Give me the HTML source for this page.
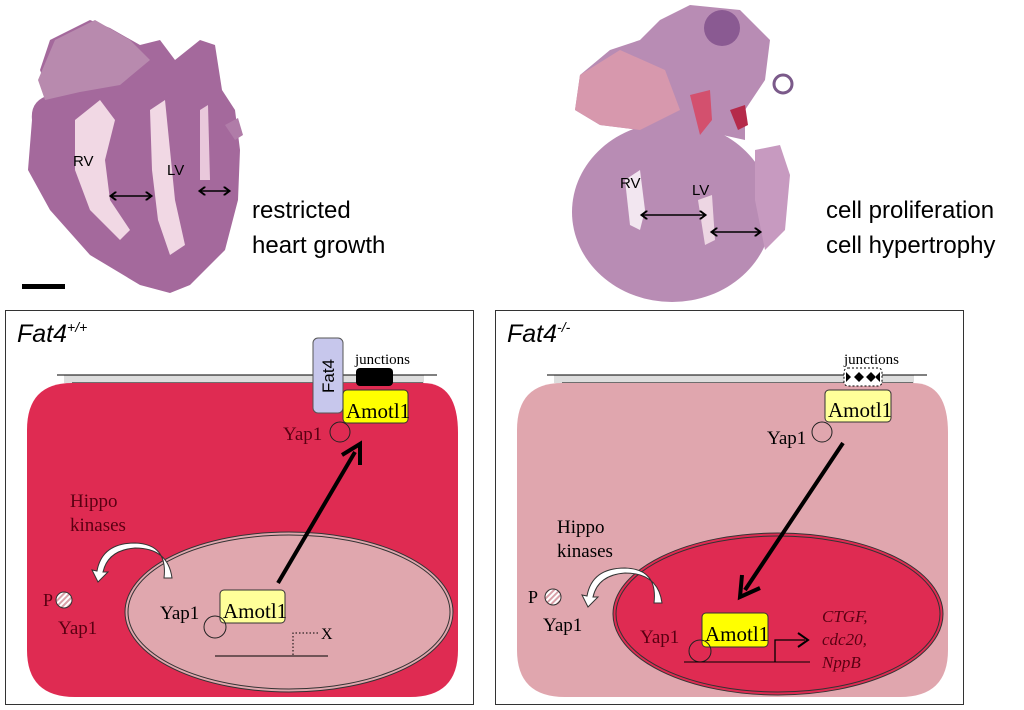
<!DOCTYPE html>
<html><head><meta charset="utf-8"><style>
html,body{margin:0;padding:0;background:#fff;width:1024px;height:710px;overflow:hidden}
svg{display:block}
.s{font-family:"Liberation Serif",serif}
.a{font-family:"Liberation Sans",sans-serif}
</style></head><body>
<svg width="1024" height="710" viewBox="0 0 1024 710" xmlns="http://www.w3.org/2000/svg">
<defs>
<pattern id="hat" width="4" height="4" patternUnits="userSpaceOnUse" patternTransform="rotate(45)">
<rect width="4" height="4" fill="#fff"/><rect width="2" height="4" fill="#d9a0a8"/></pattern>
<marker id="ah" markerWidth="6" markerHeight="6" refX="3" refY="3" orient="auto-start-reverse" markerUnits="strokeWidth"><path d="M0,0 L4,3 L0,6" fill="none" stroke="#000" stroke-width="1.3"/></marker>
</defs>
<!-- Left heart -->
<path d="M32,120 Q30,100 50,95 L40,70 L50,40 L90,20 L110,28 L140,45 L160,40 L175,60 L200,40 L215,45 L222,90 L235,110 L240,150 L238,200 L225,250 L190,285 L170,293 L140,285 L90,255 L50,210 L28,170Z" fill="#a4699c"/>
<path d="M38,80 L55,40 L95,20 L130,40 L150,60 L120,85 L80,92 L45,100Z" fill="#b88aae"/>
<path d="M75,120 L100,100 L115,120 L105,160 L110,200 L130,230 L120,240 L90,210 L75,170Z" fill="#f1d8e4"/>
<path d="M150,110 L165,100 L170,150 L175,200 L185,245 L170,255 L158,220 L152,170Z" fill="#f1d8e4"/>
<path d="M200,110 L208,105 L210,180 L200,180Z" fill="#e9c8db"/>
<path d="M225,125 L238,118 L243,135 L235,140Z" fill="#b07ca8"/>
<text x="73" y="166" class="a" font-size="15">RV</text>
<text x="167" y="175" class="a" font-size="15">LV</text>
<line x1="112" y1="196" x2="150" y2="196" stroke="#000" stroke-width="1.5" marker-start="url(#ah)" marker-end="url(#ah)"/>
<line x1="201" y1="191" x2="228" y2="191" stroke="#000" stroke-width="1.5" marker-start="url(#ah)" marker-end="url(#ah)"/>
<rect x="22" y="284" width="43" height="5" fill="#000"/>
<text x="252" y="218" class="a" font-size="24">restricted</text>
<text x="252" y="253" class="a" font-size="24">heart growth</text>
<!-- Right heart -->
<ellipse cx="672" cy="212" rx="100" ry="90" fill="#b88cb4"/>
<path d="M580,75 L610,50 L640,40 L660,20 L690,5 L740,10 L770,40 L765,80 L745,110 L745,140 L700,130 L640,130 L600,125 L575,110Z" fill="#b88cb4"/>
<path d="M580,75 L620,50 L665,70 L680,110 L640,130 L600,125 L575,110Z" fill="#d798ad"/>
<path d="M690,95 L710,90 L712,120 L700,135Z" fill="#d3506e"/>
<path d="M730,110 L745,105 L748,125 L738,130Z" fill="#b52a4a"/>
<path d="M755,150 L780,145 L790,175 L785,230 L765,250 L755,200Z" fill="#c79ac0"/>
<circle cx="722" cy="28" r="18" fill="#8a5a92"/><circle cx="783" cy="84" r="9" fill="none" stroke="#7b5a8a" stroke-width="3"/>
<path d="M625,180 L640,170 L645,210 L640,230 L630,225Z" fill="#f2e6f0"/>
<path d="M698,200 L712,195 L715,240 L705,245Z" fill="#edd6e3"/>
<text x="620" y="188" class="a" font-size="15">RV</text>
<text x="692" y="195" class="a" font-size="15">LV</text>
<line x1="643" y1="215" x2="704" y2="215" stroke="#000" stroke-width="1.5" marker-start="url(#ah)" marker-end="url(#ah)"/>
<line x1="713" y1="232" x2="759" y2="232" stroke="#000" stroke-width="1.5" marker-start="url(#ah)" marker-end="url(#ah)"/>
<text x="826" y="218" class="a" font-size="24">cell proliferation</text>
<text x="826" y="253" class="a" font-size="24">cell hypertrophy</text>

<!-- LEFT PANEL -->
<rect x="5.5" y="310.5" width="468" height="394" fill="#fff" stroke="#333" stroke-width="1"/>
<text x="17" y="342" class="a" font-size="25" font-style="italic">Fat4<tspan font-size="14" dy="-10">+/+</tspan></text>
<rect x="64" y="375" width="360" height="8" fill="#ddd"/>
<line x1="57" y1="375" x2="437" y2="375" stroke="#000"/>
<line x1="72" y1="383" x2="423" y2="383" stroke="#000"/>
<path d="M72,383 L423,383 Q458,383 458,433 L458,650 Q458,697 410,697 L75,697 Q27,697 27,650 L27,430 Q27,383 72,383Z" fill="#df2b52"/>
<ellipse cx="289" cy="612" rx="164" ry="80" fill="#e0a7ae" stroke="#333" stroke-width="1"/>
<ellipse cx="289" cy="612" rx="161" ry="77" fill="none" stroke="#333" stroke-width="1"/>
<rect x="313" y="338" width="30" height="75" rx="5" fill="#c7c7ec" stroke="#555"/>
<text x="334" y="376" class="a" font-size="17" text-anchor="middle" transform="rotate(-90 334 376)">Fat4</text>
<text x="355" y="364" class="s" font-size="15">junctions</text>
<rect x="356" y="368" width="37" height="18" rx="4" fill="#000"/>
<rect x="343" y="390" width="65" height="33" rx="4" fill="#ffff00" stroke="#333"/>
<text x="346" y="418" class="s" font-size="21">Amotl1</text>
<circle cx="340" cy="432" r="10" fill="none" stroke="#222"/>
<text x="283" y="440" class="s" font-size="19" fill="#5a0012">Yap1</text>
<line x1="278" y1="583" x2="355" y2="452" stroke="#000" stroke-width="4"/>
<path d="M342,455 L360,444 L360,465" fill="none" stroke="#000" stroke-width="4"/>
<text x="70" y="507" class="s" font-size="19" fill="#5a0012">Hippo</text>
<text x="70" y="531" class="s" font-size="19" fill="#5a0012">kinases</text>
<path d="M164,578 L172,578 Q168,548 135,548 Q108,550 103,572 L108,572 L98,582 L92,570 L97,571 Q102,543 135,543 Q168,544 164,578Z" fill="#fff" stroke="#333" stroke-width="1"/>
<circle cx="64" cy="600" r="8" fill="url(#hat)" stroke="#333"/>
<text x="43" y="606" class="s" font-size="18" fill="#5a0012">P</text>
<text x="58" y="634" class="s" font-size="19" fill="#5a0012">Yap1</text>
<rect x="220" y="590" width="65" height="33" rx="4" fill="#ffff99" stroke="#333"/>
<text x="223" y="618" class="s" font-size="21">Amotl1</text>
<circle cx="215" cy="627" r="11" fill="none" stroke="#222"/>
<text x="160" y="619" class="s" font-size="19">Yap1</text>
<line x1="215" y1="656" x2="328" y2="656" stroke="#000"/>
<path d="M293,655 L293,633 L320,633" fill="none" stroke="#000" stroke-dasharray="1.5,2"/>
<text x="321" y="639" class="s" font-size="16">X</text>

<!-- RIGHT PANEL -->
<rect x="495.5" y="310.5" width="468" height="394" fill="#fff" stroke="#333" stroke-width="1"/>
<text x="507" y="342" class="a" font-size="25" font-style="italic">Fat4<tspan font-size="14" dy="-10">-/-</tspan></text>
<rect x="554" y="375" width="360" height="8" fill="#ddd"/>
<line x1="547" y1="375" x2="927" y2="375" stroke="#000"/>
<line x1="562" y1="383" x2="913" y2="383" stroke="#000"/>
<path d="M562,383 L913,383 Q948,383 948,433 L948,650 Q948,697 900,697 L565,697 Q517,697 517,650 L517,430 Q517,383 562,383Z" fill="#e0a6ae"/>
<ellipse cx="778" cy="614" rx="165" ry="81" fill="#df2b52" stroke="#333"/>
<ellipse cx="778" cy="614" rx="162" ry="78" fill="none" stroke="#333"/>
<text x="844" y="364" class="s" font-size="15">junctions</text>
<rect x="844" y="368" width="38" height="18" rx="4" fill="#fff" stroke="#000" stroke-dasharray="2,2"/>
<path d="M854,377 L859,372 L864,377 L859,382Z M866,377 L871,372 L876,377 L871,382Z M846,372 L851,377 L846,382Z M880,372 L875,377 L880,382Z" fill="#000"/>
<rect x="825" y="390" width="66" height="32" rx="4" fill="#ffff99" stroke="#333"/>
<text x="828" y="417" class="s" font-size="21">Amotl1</text>
<circle cx="822" cy="432" r="10" fill="none" stroke="#222"/>
<text x="767" y="444" class="s" font-size="19">Yap1</text>
<line x1="843" y1="443" x2="745" y2="590" stroke="#000" stroke-width="4"/>
<path d="M742,575 L740,597 L760,588" fill="none" stroke="#000" stroke-width="4"/>
<text x="557" y="533" class="s" font-size="19">Hippo</text>
<text x="557" y="557" class="s" font-size="19">kinases</text>
<path d="M654,603 L662,603 Q658,573 625,573 Q598,575 593,597 L598,597 L588,607 L582,595 L587,596 Q592,568 625,568 Q658,569 654,603Z" fill="#fff" stroke="#333"/>
<circle cx="553" cy="597" r="8" fill="url(#hat)" stroke="#333"/>
<text x="528" y="603" class="s" font-size="18">P</text>
<text x="543" y="631" class="s" font-size="19">Yap1</text>
<rect x="702" y="613" width="66" height="34" rx="4" fill="#ffff00" stroke="#333"/>
<text x="705" y="641" class="s" font-size="21">Amotl1</text>
<circle cx="700" cy="651" r="11" fill="none" stroke="#222"/>
<text x="640" y="643" class="s" font-size="19" fill="#5a0012">Yap1</text>
<line x1="684" y1="662" x2="810" y2="662" stroke="#000"/>
<path d="M775,662 L775,640 L805,640" fill="none" stroke="#000" stroke-width="1.3"/>
<path d="M798,633 L808,640 L798,647" fill="none" stroke="#000" stroke-width="2"/>
<text x="822" y="622" class="s" font-size="17" font-style="italic" fill="#5a0012">CTGF,</text>
<text x="822" y="645" class="s" font-size="17" font-style="italic" fill="#5a0012">cdc20,</text>
<text x="822" y="668" class="s" font-size="17" font-style="italic" fill="#5a0012">NppB</text>
</svg>
</body></html>
